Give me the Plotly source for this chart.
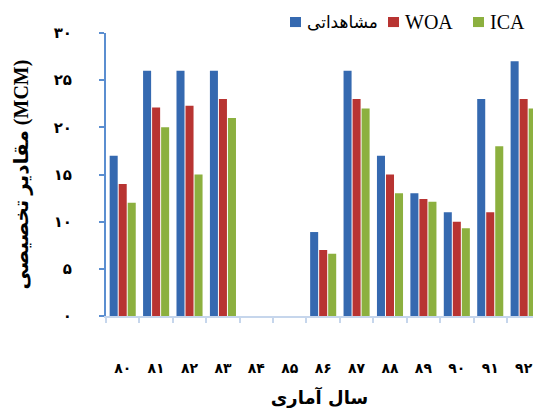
import plotly.graph_objects as go

years = ["۸۰", "۸۱", "۸۲", "۸۳", "۸۴", "۸۵", "۸۶", "۸۷", "۸۸", "۸۹", "۹۰", "۹۱", "۹۲"]
observed = [17, 26, 26, 26, 0, 0, 8.9, 26, 17, 13, 11, 23, 27]
woa = [14, 22.1, 22.3, 23, 0, 0, 7.0, 23, 15, 12.4, 10, 11, 23]
ica = [12, 20, 15, 21, 0, 0, 6.6, 22, 13, 12.1, 9.3, 18, 22]
y_ticks = [0, 5, 10, 15, 20, 25, 30]
y_tick_text = ["۰", "۵", "۱۰", "۱۵", "۲۰", "۲۵", "۳۰"]

series_names = ["مشاهداتی", "WOA", "ICA"]
colors = ["#3569b0", "#b83432", "#8cb03f"]

fig = go.Figure()
for name, vals, col in zip(series_names, [observed, woa, ica], colors):
    fig.add_trace(go.Bar(x=years, y=vals, name=name, showlegend=False,
                         marker=dict(color=col, line=dict(width=0))))

# manual legend (paper coordinates)
legend_sq_x = [0.4309, 0.6604, 0.8595]
legend_txt_x = [0.4660, 0.6956, 0.8946]
legend_fonts = [dict(size=17, family="DejaVu Sans"),
                dict(size=20, family="Liberation Serif"),
                dict(size=20, family="Liberation Serif")]
for name, col, sx, tx, f in zip(series_names, colors, legend_sq_x, legend_txt_x, legend_fonts):
    fig.add_shape(type="rect", xref="paper", yref="paper", x0=sx, x1=sx + 0.0258,
                  y0=1.021, y1=1.0565, fillcolor=col, line=dict(width=0))
    fig.add_annotation(xref="paper", yref="paper", x=tx, y=1.039, text=name,
                       showarrow=False, xanchor="left", yanchor="middle",
                       font=dict(color="black", **f))

font_fam = "Liberation Serif, DejaVu Serif, DejaVu Sans, serif"
fig.update_layout(
    width=533, height=412,
    margin=dict(l=106, r=0, t=33, b=96),
    paper_bgcolor="white", plot_bgcolor="white",
    barmode="group", bargap=0.19, bargroupgap=0.11,
    font=dict(family=font_fam, color="black"),
    showlegend=False,
    xaxis=dict(
        type="category", range=[-0.5, 12.28],
        showline=True, linecolor="#c6d6ec", linewidth=2,
        ticks="outside", tickson="boundaries", ticklen=5, tickcolor="#c6d6ec", tickwidth=2,
        tickfont=dict(size=14, family="DejaVu Sans", color="black", weight="bold"),
        ticklabelstandoff=38,
        showgrid=False, zeroline=False,
        title=dict(text="<b>سال آماری</b>", font=dict(size=18, family="DejaVu Sans"), standoff=17),
    ),
    yaxis=dict(
        range=[0, 30], tickvals=y_ticks, ticktext=y_tick_text,
        showline=True, linecolor="#5b8ed0", linewidth=2,
        ticks="outside", ticklen=5, tickcolor="#5b8ed0", tickwidth=2,
        tickfont=dict(size=15, family="DejaVu Sans", color="black", weight="bold"),
        ticklabelstandoff=24,
        showgrid=False, zeroline=False,
        title=dict(text="<b>مقادیر تخصیصی (MCM)</b>", font=dict(size=20, family=font_fam), standoff=20),
    ),
)

fig.write_html("out.html", config={"displayModeBar": False},
               post_script="document.body.style.margin='0';")
